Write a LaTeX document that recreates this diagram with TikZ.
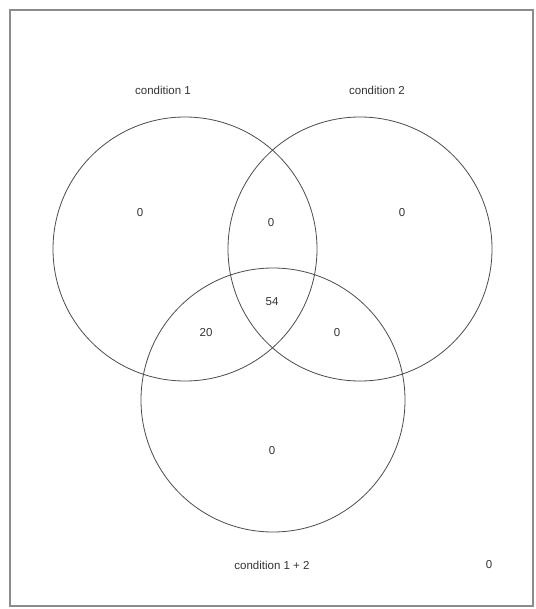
\documentclass[tikz,border=0pt]{standalone}
\usepackage{fontspec}
\setmainfont{Liberation Sans}
\begin{document}
\begin{tikzpicture}[x=1pt,y=-1pt,
  ring/.style={draw=black!70,line width=0.8pt},
  lbl/.style={inner sep=0pt,text=black!80,font=\fontsize{11.5}{13}\selectfont}]
\useasboundingbox (0,0) rectangle (535,609);
\fill[white] (0,0) rectangle (535,609);
\draw[black!45,line width=1.6pt] (10,10) rectangle (533,606);
\draw[ring] (185,249) circle[radius=132];
\draw[ring] (360,249) circle[radius=132];
\draw[ring] (273,400) circle[radius=132];
\node[lbl] (c1) at (163,90) {condition 1};
\node[lbl] (c2) at (377,90) {condition 2};
\node[lbl] (c12) at (272,565) {condition 1 + 2};
\node[lbl] (out) at (489,565) {0};
\node[lbl] (a) at (140,213) {0};
\node[lbl] (b) at (402,213) {0};
\node[lbl] (ab) at (271,223) {0};
\node[lbl] (abc) at (272,302) {54};
\node[lbl] (ac) at (206,333) {20};
\node[lbl] (bc) at (337,333) {0};
\node[lbl] (c) at (272,451) {0};
\end{tikzpicture}
\end{document}
